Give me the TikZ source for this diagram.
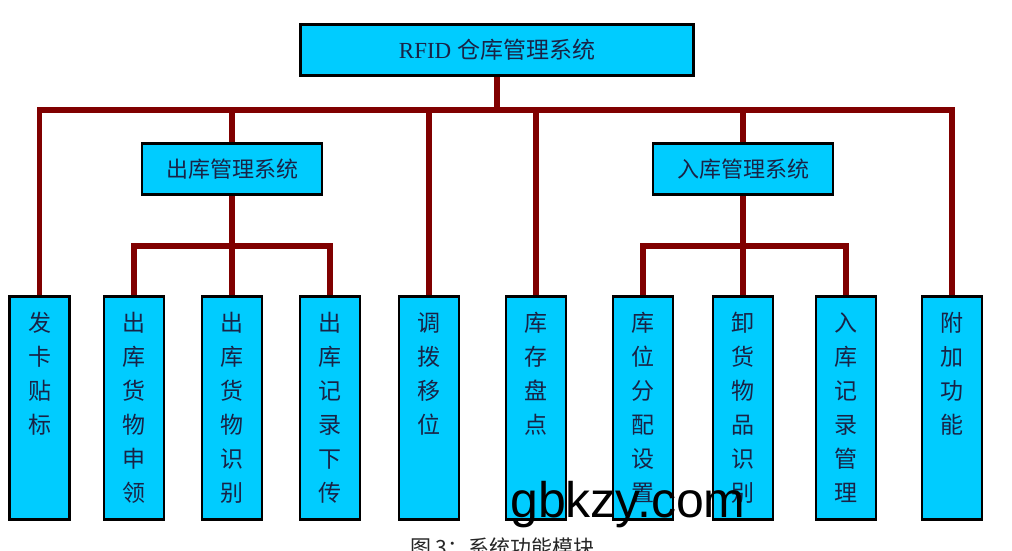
\documentclass[tikz,border=0pt]{standalone}
\usepackage{fontspec}
\setmainfont{Liberation Serif}
\newfontfamily\cjk{Noto Sans CJK SC}
\newfontfamily\wmfont{Liberation Sans}
\definecolor{boxfill}{RGB}{0,204,255}
\definecolor{linkred}{RGB}{128,0,0}
\definecolor{txtc}{RGB}{25,35,70}
\begin{document}
\begin{tikzpicture}[x=1pt,y=-1pt,
  box/.style={draw=black,line width=1.6pt,fill=boxfill,inner sep=0pt},
  topbox/.style={box,minimum width=392pt,minimum height=50pt,font=\fontsize{23}{23}\selectfont,text=txtc},
  midbox/.style={box,minimum width=179pt,minimum height=50pt,font=\cjk\fontsize{22}{22}\selectfont,text=txtc},
  leafbox/.style={box,minimum width=59pt,minimum height=222pt},
  leaftext/.style={anchor=north,inner sep=0pt,align=center,text=txtc,font=\cjk\fontsize{23}{34}\selectfont},
  link/.style={draw=linkred,line width=5.5pt,line join=miter},
  wm/.style={inner sep=0pt,font=\wmfont\fontsize{50}{50}\selectfont,text=black},
  captext/.style={inner sep=0pt,font=\cjk\fontsize{21}{21}\selectfont,text=black!85}]
\useasboundingbox (0,0) rectangle (1012,550);
\node[topbox] (top) at (497,50) {RFID {\cjk 仓库管理系统}};
\node[midbox] (out) at (232,169) {出库管理系统};
\node[midbox] (in) at (743,169) {入库管理系统};
\foreach \n/\x in {a/39.5,b/134,c/232,d/330,e/429,f/536,g/643,h/743,i/846,j/952}
  \node[leafbox] (\n) at (\x,408) {};
\coordinate (h0) at (497,110);
\coordinate (ho1) at (232,246);
\coordinate (ho2) at (743,246);
% connectors
\draw[link] (top.south) -- (h0);
\draw[link] (a.north) -- (a.north |- h0) -- (j.north |- h0) -- (j.north);
\draw[link] (out.north |- h0) -- (out.north);
\draw[link] (e.north |- h0) -- (e.north);
\draw[link] (f.north |- h0) -- (f.north);
\draw[link] (in.north |- h0) -- (in.north);
\draw[link] (out.south) -- (ho1);
\draw[link] (b.north) -- (b.north |- ho1) -- (d.north |- ho1) -- (d.north);
\draw[link] (ho1) -- (c.north);
\draw[link] (in.south) -- (ho2);
\draw[link] (g.north) -- (g.north |- ho2) -- (i.north |- ho2) -- (i.north);
\draw[link] (ho2) -- (h.north);
% redraw box borders over link ends
\foreach \n in {a,b,c,d,e,f,g,h,i,j,top,out,in}
  \draw[black,line width=1.6pt] (\n.south west) rectangle (\n.north east);
% leaf texts
\foreach \n/\t in {a/{发\\卡\\贴\\标},b/{出\\库\\货\\物\\申\\领},c/{出\\库\\货\\物\\识\\别},d/{出\\库\\记\\录\\下\\传},e/{调\\拨\\移\\位},f/{库\\存\\盘\\点},g/{库\\位\\分\\配\\设\\置},h/{卸\\货\\物\\品\\识\\别},i/{入\\库\\记\\录\\管\\理},j/{附\\加\\功\\能}}
  \node[leaftext] (t\n) at ([yshift=-16pt]\n.north) {\t};
% caption and watermark
\node[captext,anchor=west] (caption) at (410,547) {图 3：系统功能模块};
\node[wm] (water) at (628,505) {gbkzy.com};
\end{tikzpicture}
\end{document}
